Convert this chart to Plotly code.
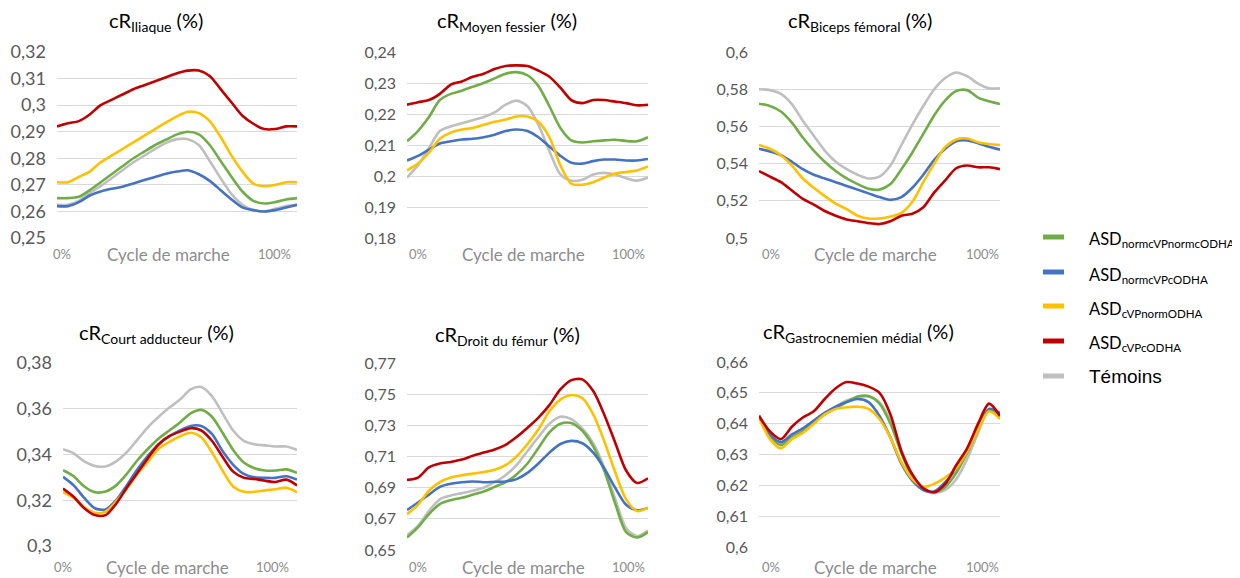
import plotly.graph_objects as go

# ---------------- data ----------------
cycle = list(range(0, 111, 5))  # gait cycle samples (%)

group_labels = ["ASD<sub>normcVPnormcODHA</sub>", "ASD<sub>normcVPcODHA</sub>",
                "ASD<sub>cVPnormODHA</sub>", "ASD<sub>cVPcODHA</sub>", "Témoins"]
group_colors = ["#70AD47", "#4472C4", "#FFC000", "#C00000", "#BFBFBF"]

muscles = ["Iliaque", "Moyen fessier", "Biceps fémoral",
           "Court adducteur", "Droit du fémur", "Gastrocnemien médial"]

x_tick_labels = ["0%", "Cycle de marche", "100%"]

# Iliaque
iliaque_green = [0.265, 0.265, 0.2655, 0.268, 0.271, 0.274, 0.277, 0.280, 0.2825, 0.285, 0.287, 0.289, 0.290, 0.289, 0.285, 0.279, 0.273, 0.2675, 0.264, 0.263, 0.2635, 0.2645, 0.265]
iliaque_blue = [0.262, 0.262, 0.2635, 0.266, 0.2675, 0.2685, 0.2693, 0.2705, 0.2718, 0.273, 0.2742, 0.275, 0.2755, 0.274, 0.2715, 0.268, 0.2645, 0.2615, 0.2605, 0.260, 0.2605, 0.2615, 0.2625]
iliaque_yellow = [0.271, 0.271, 0.273, 0.275, 0.2785, 0.281, 0.2835, 0.286, 0.2885, 0.291, 0.2935, 0.2958, 0.2975, 0.297, 0.294, 0.288, 0.281, 0.275, 0.2705, 0.2695, 0.270, 0.271, 0.271]
iliaque_red = [0.292, 0.2932, 0.294, 0.2965, 0.300, 0.302, 0.304, 0.306, 0.3075, 0.309, 0.3105, 0.312, 0.313, 0.313, 0.311, 0.306, 0.301, 0.296, 0.293, 0.291, 0.291, 0.292, 0.292]
iliaque_gray = [0.2625, 0.2625, 0.264, 0.267, 0.2695, 0.2725, 0.2755, 0.2785, 0.281, 0.2835, 0.2858, 0.2872, 0.2872, 0.285, 0.279, 0.2725, 0.2665, 0.2625, 0.2605, 0.260, 0.261, 0.262, 0.2625]

# Moyen fessier
moyen_green = [0.2112, 0.2145, 0.219, 0.2245, 0.2265, 0.2275, 0.2288, 0.230, 0.2315, 0.233, 0.2335, 0.2325, 0.229, 0.2225, 0.2155, 0.2115, 0.2108, 0.2112, 0.2115, 0.2117, 0.2113, 0.2112, 0.2125]
moyen_blue = [0.205, 0.2065, 0.2085, 0.2105, 0.2112, 0.2118, 0.212, 0.2125, 0.2133, 0.2145, 0.215, 0.2145, 0.2125, 0.2095, 0.2065, 0.2043, 0.204, 0.2048, 0.2053, 0.2053, 0.205, 0.205, 0.2055]
moyen_yellow = [0.2018, 0.204, 0.2075, 0.212, 0.214, 0.215, 0.2155, 0.2165, 0.2175, 0.2182, 0.2192, 0.2192, 0.2175, 0.2125, 0.2035, 0.1975, 0.1972, 0.198, 0.1995, 0.2008, 0.2013, 0.2018, 0.2031]
moyen_red = [0.223, 0.2238, 0.2245, 0.2265, 0.2295, 0.2305, 0.232, 0.233, 0.2345, 0.2355, 0.2357, 0.2355, 0.234, 0.232, 0.2285, 0.2245, 0.2235, 0.2245, 0.2245, 0.224, 0.2235, 0.2228, 0.223]
moyen_gray = [0.1995, 0.2035, 0.209, 0.2145, 0.216, 0.217, 0.218, 0.219, 0.2205, 0.223, 0.2243, 0.2225, 0.2165, 0.208, 0.2005, 0.1985, 0.1988, 0.2005, 0.201, 0.2005, 0.1993, 0.1985, 0.1995]

# Biceps femoral
biceps_green = [0.5722, 0.571, 0.568, 0.562, 0.554, 0.547, 0.541, 0.536, 0.532, 0.529, 0.5265, 0.526, 0.529, 0.537, 0.546, 0.556, 0.566, 0.574, 0.579, 0.5795, 0.5755, 0.5735, 0.572]
biceps_blue = [0.548, 0.5465, 0.5445, 0.541, 0.537, 0.534, 0.532, 0.530, 0.528, 0.526, 0.524, 0.522, 0.5205, 0.522, 0.527, 0.534, 0.542, 0.548, 0.552, 0.5525, 0.551, 0.549, 0.5475]
biceps_yellow = [0.550, 0.548, 0.5445, 0.539, 0.532, 0.527, 0.5225, 0.5185, 0.5155, 0.512, 0.5105, 0.5105, 0.5115, 0.5135, 0.5195, 0.530, 0.540, 0.549, 0.553, 0.5535, 0.5515, 0.5505, 0.550]
biceps_red = [0.536, 0.533, 0.530, 0.5255, 0.521, 0.518, 0.5145, 0.512, 0.510, 0.509, 0.508, 0.5075, 0.509, 0.512, 0.513, 0.5165, 0.5245, 0.531, 0.5375, 0.539, 0.538, 0.538, 0.537]
biceps_gray = [0.580, 0.5795, 0.5775, 0.572, 0.563, 0.555, 0.547, 0.541, 0.537, 0.534, 0.532, 0.533, 0.539, 0.550, 0.561, 0.571, 0.580, 0.586, 0.589, 0.587, 0.583, 0.5805, 0.5805]

# Court adducteur
court_green = [0.3331, 0.3305, 0.326, 0.3235, 0.3238, 0.3265, 0.3315, 0.3375, 0.3425, 0.347, 0.3505, 0.354, 0.358, 0.3595, 0.3565, 0.3495, 0.342, 0.3365, 0.334, 0.333, 0.333, 0.3335, 0.332]
court_blue = [0.3302, 0.3265, 0.321, 0.3165, 0.316, 0.320, 0.3265, 0.3335, 0.3395, 0.3445, 0.348, 0.3505, 0.3525, 0.3525, 0.349, 0.3415, 0.3355, 0.3315, 0.330, 0.3298, 0.3298, 0.3305, 0.329]
court_yellow = [0.3236, 0.321, 0.317, 0.3145, 0.315, 0.3195, 0.325, 0.3315, 0.337, 0.3425, 0.3455, 0.348, 0.3495, 0.3475, 0.341, 0.333, 0.326, 0.3237, 0.3237, 0.3243, 0.3248, 0.3255, 0.3235]
court_red = [0.3251, 0.3215, 0.3165, 0.3135, 0.3135, 0.3185, 0.3255, 0.332, 0.3385, 0.3445, 0.348, 0.350, 0.3515, 0.3505, 0.346, 0.339, 0.3325, 0.3298, 0.3293, 0.3285, 0.328, 0.329, 0.3265]
court_gray = [0.3423, 0.3405, 0.337, 0.335, 0.3348, 0.337, 0.341, 0.3465, 0.352, 0.3565, 0.3605, 0.364, 0.3685, 0.3695, 0.3655, 0.358, 0.3505, 0.346, 0.3445, 0.344, 0.3435, 0.3435, 0.342]

# Droit du femur
droit_green = [0.658, 0.6645, 0.673, 0.6795, 0.682, 0.6835, 0.6855, 0.6875, 0.6905, 0.6935, 0.6985, 0.7055, 0.7155, 0.7255, 0.731, 0.7315, 0.7265, 0.7165, 0.701, 0.680, 0.6615, 0.658, 0.6615]
droit_blue = [0.6757, 0.6805, 0.6855, 0.6905, 0.6925, 0.6935, 0.694, 0.6935, 0.6938, 0.694, 0.6955, 0.6995, 0.7055, 0.7125, 0.718, 0.720, 0.7185, 0.7125, 0.7025, 0.690, 0.679, 0.6755, 0.677]
droit_yellow = [0.673, 0.679, 0.688, 0.6935, 0.6965, 0.698, 0.699, 0.700, 0.7015, 0.7045, 0.710, 0.718, 0.7275, 0.739, 0.7465, 0.7495, 0.7475, 0.737, 0.720, 0.700, 0.6825, 0.675, 0.677]
droit_red = [0.695, 0.6965, 0.703, 0.7055, 0.7065, 0.708, 0.7105, 0.7125, 0.7145, 0.7175, 0.7225, 0.7285, 0.735, 0.743, 0.753, 0.759, 0.7595, 0.752, 0.737, 0.719, 0.701, 0.693, 0.696]
droit_gray = [0.6596, 0.6655, 0.675, 0.6825, 0.685, 0.6865, 0.688, 0.690, 0.6935, 0.698, 0.7045, 0.7135, 0.7225, 0.731, 0.7355, 0.734, 0.728, 0.7185, 0.703, 0.683, 0.664, 0.659, 0.6625]

# Gastrocnemien medial
gastro_green = [0.6425, 0.636, 0.633, 0.6355, 0.6375, 0.6405, 0.643, 0.645, 0.647, 0.6488, 0.649, 0.6465, 0.640, 0.6305, 0.6225, 0.6185, 0.6177, 0.6195, 0.624, 0.6305, 0.638, 0.6445, 0.6425]
gastro_blue = [0.6425, 0.6365, 0.634, 0.6365, 0.6385, 0.641, 0.6435, 0.6455, 0.647, 0.648, 0.647, 0.6425, 0.6355, 0.627, 0.6215, 0.6185, 0.618, 0.621, 0.6255, 0.6315, 0.639, 0.6448, 0.6435]
gastro_yellow = [0.642, 0.635, 0.632, 0.635, 0.637, 0.640, 0.643, 0.6448, 0.6453, 0.6455, 0.6448, 0.6415, 0.6355, 0.6275, 0.622, 0.6195, 0.6205, 0.6225, 0.6255, 0.631, 0.638, 0.644, 0.6415]
gastro_red = [0.6425, 0.6375, 0.635, 0.639, 0.642, 0.644, 0.648, 0.6515, 0.6535, 0.653, 0.652, 0.650, 0.643, 0.631, 0.6235, 0.619, 0.6178, 0.6205, 0.6265, 0.632, 0.640, 0.6465, 0.6425]
gastro_gray = [0.6428, 0.6365, 0.6335, 0.636, 0.638, 0.641, 0.6435, 0.6455, 0.6475, 0.6485, 0.6488, 0.647, 0.641, 0.6315, 0.6235, 0.619, 0.6175, 0.6185, 0.622, 0.6285, 0.637, 0.6445, 0.643]

# y tick values / labels per panel
iliaque_ticks = [0.25, 0.26, 0.27, 0.28, 0.29, 0.30, 0.31, 0.32]
iliaque_ticklabels = ["0,25", "0,26", "0,27", "0,28", "0,29", "0,3", "0,31", "0,32"]
moyen_ticks = [0.18, 0.19, 0.20, 0.21, 0.22, 0.23, 0.24]
moyen_ticklabels = ["0,18", "0,19", "0,2", "0,21", "0,22", "0,23", "0,24"]
biceps_ticks = [0.50, 0.52, 0.54, 0.56, 0.58, 0.60]
biceps_ticklabels = ["0,5", "0,52", "0,54", "0,56", "0,58", "0,6"]
court_ticks = [0.30, 0.32, 0.34, 0.36, 0.38]
court_ticklabels = ["0,3", "0,32", "0,34", "0,36", "0,38"]
droit_ticks = [0.65, 0.67, 0.69, 0.71, 0.73, 0.75, 0.77]
droit_ticklabels = ["0,65", "0,67", "0,69", "0,71", "0,73", "0,75", "0,77"]
gastro_ticks = [0.60, 0.61, 0.62, 0.63, 0.64, 0.65, 0.66]
gastro_ticklabels = ["0,6", "0,61", "0,62", "0,63", "0,64", "0,65", "0,66"]

panels = [
    ([iliaque_green, iliaque_blue, iliaque_yellow, iliaque_red, iliaque_gray], iliaque_ticks, iliaque_ticklabels),
    ([moyen_green, moyen_blue, moyen_yellow, moyen_red, moyen_gray], moyen_ticks, moyen_ticklabels),
    ([biceps_green, biceps_blue, biceps_yellow, biceps_red, biceps_gray], biceps_ticks, biceps_ticklabels),
    ([court_green, court_blue, court_yellow, court_red, court_gray], court_ticks, court_ticklabels),
    ([droit_green, droit_blue, droit_yellow, droit_red, droit_gray], droit_ticks, droit_ticklabels),
    ([gastro_green, gastro_blue, gastro_yellow, gastro_red, gastro_gray], gastro_ticks, gastro_ticklabels),
]

# ---------------- layout geometry (window pixels) ----------------
OFF = 8                     # page body margin
W, H = 1240 - OFF, 578 - OFF
# plot boxes: left, right, top, bottom
boxes = [(57, 297, 52, 238), (407, 648, 52, 238), (759, 1000, 52, 238),
         (63, 297, 363, 546), (407, 648, 363, 550), (759, 1000, 362, 547)]
title_pos = [(156, 22), (507, 22), (860, 22), (156, 333), (507, 335), (858, 332)]
ytick_size = [18, 16, 16, 18, 16, 16]
# x positions (data units) for "0%", "Cycle de marche", "100%"
xlab_pos = [(2.3, 51, 99.5), (5, 53, 101), (5.5, 53, 101.8),
            (0, 49, 98.7), (5, 53, 101), (5.5, 53, 101.8)]
xlab_y = [254, 254, 254, 567, 567, 567]

FONT = "Lato"

def px_x(p):
    return (p - OFF) / W

def px_y(p):
    return 1 - (p - OFF) / H

fig = go.Figure()
draw_order = [4, 0, 1, 2, 3]  # gray beneath, red on top

annotations = []
for i, (series, ticks, ticklabels) in enumerate(panels):
    ax = "" if i == 0 else str(i + 1)
    for k in draw_order:
        fig.add_trace(go.Scatter(
            x=cycle, y=series[k], mode="lines",
            line=dict(color=group_colors[k], width=2.6, shape="spline", smoothing=0.8),
            name=group_labels[k], showlegend=False, hoverinfo="skip",
            xaxis="x" + ax, yaxis="y" + ax))
    l, r, t, b = boxes[i]
    fig.update_layout(**{
        "xaxis" + ax: dict(domain=[px_x(l), px_x(r)], range=[0, 110], showgrid=False,
                           zeroline=False, showline=False, showticklabels=False,
                           automargin=False, anchor="y" + ax, fixedrange=True),
        "yaxis" + ax: dict(domain=[px_y(b), px_y(t)], range=[ticks[0], ticks[-1]],
                           tickvals=ticks, ticktext=ticklabels, showgrid=True,
                           gridcolor="#D9D9D9", gridwidth=1, zeroline=False,
                           showline=False, ticks="", ticklabelstandoff=10,
                           automargin=False,
                           tickfont=dict(family=FONT, size=ytick_size[i], color="#595959"),
                           anchor="x" + ax, fixedrange=True),
    })
    # panel title
    tx, ty = title_pos[i]
    annotations.append(dict(text="cR<sub>" + muscles[i] + "</sub> (%)", x=px_x(tx), y=px_y(ty),
                            xref="paper", yref="paper", showarrow=False,
                            xanchor="center", yanchor="middle",
                            font=dict(family=FONT, size=20, color="#000000")))
    # x labels
    sizes = [13, 17, 13]
    for j in range(3):
        annotations.append(dict(text=x_tick_labels[j], x=xlab_pos[i][j], y=px_y(xlab_y[i]),
                                xref="x" + ax, yref="paper", showarrow=False,
                                xanchor="center", yanchor="middle",
                                font=dict(family=FONT, size=sizes[j], color="#8C8C8C")))

# legend (manual)
legend_y = [237, 272, 306, 341, 376]
legend_font = [(FONT, 16.5)] * 4 + [("Liberation Sans", 19)]
shapes = []
for k in range(5):
    shapes.append(dict(type="line", xref="paper", yref="paper",
                       x0=px_x(1043), x1=px_x(1064), y0=px_y(legend_y[k]), y1=px_y(legend_y[k]),
                       line=dict(color=group_colors[k], width=5)))
    annotations.append(dict(text=group_labels[k], x=px_x(1087),
                            y=px_y(legend_y[k] + (3 if k < 4 else 0)),
                            xref="paper", yref="paper", showarrow=False,
                            xanchor="left", yanchor="middle",
                            font=dict(family=legend_font[k][0], size=legend_font[k][1],
                                      color="#000000")))

fig.update_layout(width=W, height=H, margin=dict(l=0, r=0, t=0, b=0, autoexpand=False),
                  paper_bgcolor="white", plot_bgcolor="white",
                  annotations=annotations, shapes=shapes, showlegend=False,
                  separators=", ")

fig.write_html("out.html")
